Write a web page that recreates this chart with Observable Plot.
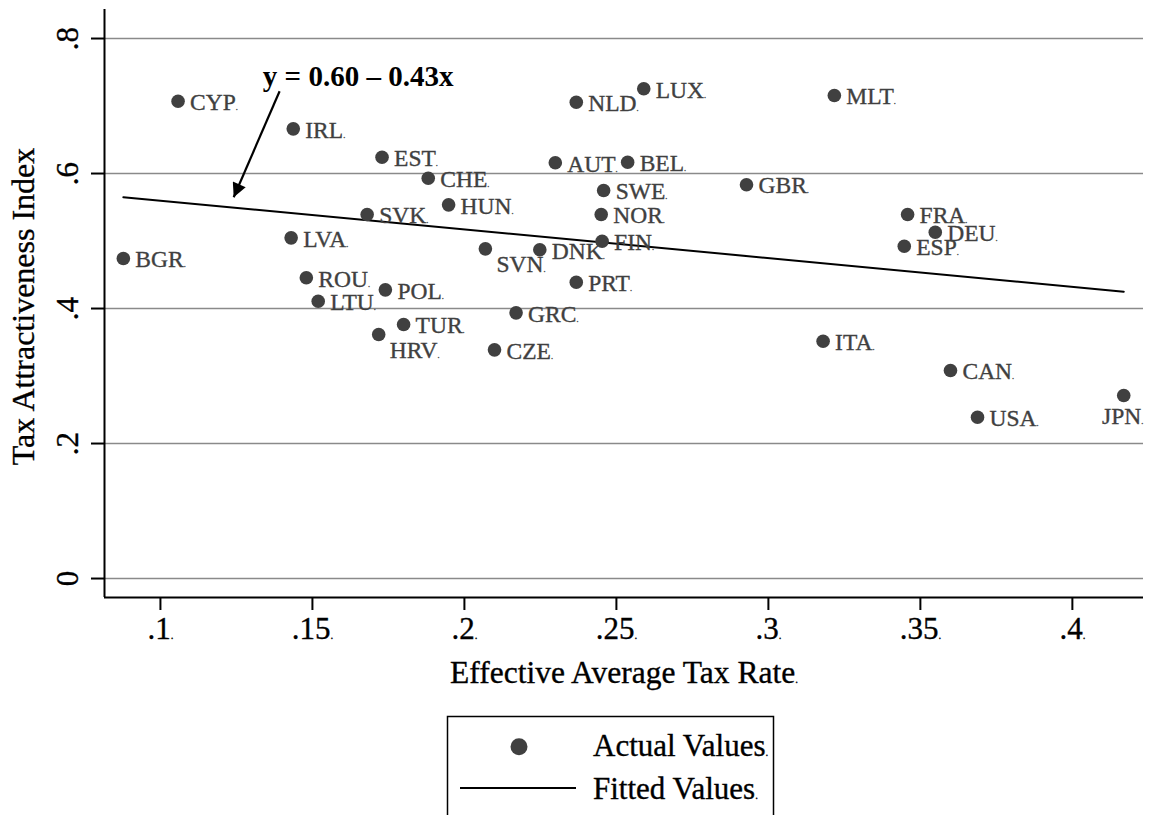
<!DOCTYPE html>
<html><head><meta charset="utf-8">
<script src="https://cdn.jsdelivr.net/npm/d3@7"></script>
<script src="https://cdn.jsdelivr.net/npm/@observablehq/plot@0.6"></script>
<style>
body{margin:0;background:#fff;overflow:hidden;}
#wrap{position:relative;width:1153px;height:815px;overflow:hidden;}
#wrap svg{display:block;}
#wrap text{font-family:"Liberation Serif","Times New Roman",serif;}
</style></head><body><div id="wrap"></div>
<script>
// ---- data ----
const countries = ["CYP","IRL","EST","CHE","HUN","SVK","LVA","SVN","DNK","ROU","POL","LTU","TUR","HRV","GRC","CZE","LUX","NLD","AUT","BEL","SWE","NOR","FIN","PRT","GBR","MLT","FRA","DEU","ESP","ITA","CAN","USA","JPN","BGR"];
const eatr = [0.1058,0.1437,0.1729,0.1881,0.1948,0.1680,0.1430,0.2069,0.2248,0.1480,0.1740,0.1519,0.1800,0.1718,0.2170,0.2099,0.2590,0.2368,0.2299,0.2537,0.2458,0.2450,0.2453,0.2368,0.2928,0.3217,0.3458,0.3549,0.3447,0.3180,0.3599,0.3688,0.4169,0.0878];
const tai  = [0.7071,0.6662,0.6241,0.5930,0.5536,0.5393,0.5047,0.4884,0.4870,0.4455,0.4277,0.4108,0.3763,0.3615,0.3936,0.3388,0.7255,0.7056,0.6159,0.6167,0.5748,0.5393,0.4997,0.4390,0.5834,0.7156,0.5393,0.5130,0.4923,0.3516,0.3081,0.2390,0.2711,0.4741];
const fitX = [0.0878, 0.4169];
const fitY = [0.565, 0.425];
const xTicks = [0.1, 0.15, 0.2, 0.25, 0.3, 0.35, 0.4];
const xTickLabels = [".1.", ".15.", ".2.", ".25.", ".3.", ".35.", ".4."];
const yTicks = [0, 0.2, 0.4, 0.6, 0.8];
const yTickLabels = ["0", ".2", ".4", ".6", ".8"];
const xTitle = "Effective Average Tax Rate.";
const yTitle = "Tax Attractiveness Index";
const labelBelowRight = ["SVN", "HRV"];
const labelBelow = ["JPN"];
const annotationText = "y = 0.60 – 0.43x";
const annotationPos = [0.1337, 0.7441];
const arrowFrom = [0.1392, 0.7219];
const arrowTo = [0.1241, 0.5649];
const legendLabels = ["Actual Values.", "Fitted Values."];

// ---- build ----
const serif = '"Liberation Serif","Times New Roman",serif';
const pts = countries.map((c, i) => ({country: c, label: c + ".", x: eatr[i], y: tai[i]}));
const fit = fitX.map((x, i) => ({x, y: fitY[i]}));
const xDomain = [0.0816, 0.4234];
const yDomain = [-0.0281, 0.843];
const xLab = new Map(xTicks.map((t, i) => [t, xTickLabels[i]]));
const yLab = new Map(yTicks.map((t, i) => [t, yTickLabels[i]]));
const dotColor = "#404040";
const lblSize = 23.5;

const plot = Plot.plot({
  width: 1153, height: 700,
  marginLeft: 104, marginRight: 10, marginTop: 9, marginBottom: 103,
  x: {domain: xDomain},
  y: {domain: yDomain},
  style: {background: "#fff", color: "black"},
  marks: [
    Plot.ruleY(yTicks, {stroke: "#8a8a8a", strokeWidth: 1.6}),
    Plot.ruleX([xDomain[0]], {stroke: "black", strokeWidth: 2}),
    Plot.ruleY([yDomain[0]], {stroke: "black", strokeWidth: 2}),
    Plot.axisX({ticks: xTicks, tickSize: 13, tickPadding: 6, strokeWidth: 2, fontSize: 31, tickFormat: d => xLab.get(d), label: null}),
    Plot.axisY({ticks: yTicks, tickSize: 13, strokeWidth: 2, tickFormat: () => "", label: null}),
    Plot.text(yTicks, {y: d => d, text: d => yLab.get(d), frameAnchor: "left", textAnchor: "middle", lineAnchor: "middle", dx: -36, rotate: -90, fontSize: 31, fill: "black"}),
    Plot.text([yTitle], {frameAnchor: "left", textAnchor: "middle", lineAnchor: "middle", dx: -81, dy: 3, rotate: -90, fontSize: 32, fill: "black"}),
    Plot.text([xTitle], {frameAnchor: "bottom", textAnchor: "middle", lineAnchor: "middle", dy: 75.3, fontSize: 31.5, fill: "black"}),
    Plot.line(fit, {x: "x", y: "y", stroke: "black", strokeWidth: 2}),
    Plot.dot(pts, {x: "x", y: "y", r: 6.8, fill: dotColor}),
    Plot.text(pts.filter(d => !labelBelowRight.includes(d.country) && !labelBelow.includes(d.country)),
      {x: "x", y: "y", text: "label", textAnchor: "start", lineAnchor: "middle", dx: 12, dy: 1.2, fontSize: lblSize, fill: dotColor}),
    Plot.text(pts.filter(d => labelBelowRight.includes(d.country)),
      {x: "x", y: "y", text: "label", textAnchor: "start", lineAnchor: "middle", dx: 11, dy: 16, fontSize: lblSize, fill: dotColor}),
    Plot.text(pts.filter(d => labelBelow.includes(d.country)),
      {x: "x", y: "y", text: "label", textAnchor: "middle", lineAnchor: "middle", dx: -1, dy: 21, fontSize: lblSize, fill: dotColor}),
    Plot.text([{x: annotationPos[0], y: annotationPos[1], t: annotationText}],
      {x: "x", y: "y", text: "t", textAnchor: "start", lineAnchor: "middle", fontSize: 29, fontWeight: "bold", fill: "black"}),
    Plot.link([{x1: arrowFrom[0], y1: arrowFrom[1], x2: arrowTo[0], y2: arrowTo[1]}],
      {x1: "x1", y1: "y1", x2: "x2", y2: "y2", stroke: "black", strokeWidth: 2.2})
  ]
});

const wrap = document.getElementById("wrap");
wrap.appendChild(plot);

// filled arrow head
const svg = d3.select(plot);
svg.append("defs").append("marker")
  .attr("id", "ahead").attr("viewBox", "0 0 10 10").attr("refX", 10).attr("refY", 5)
  .attr("markerWidth", 17).attr("markerHeight", 14).attr("markerUnits", "userSpaceOnUse")
  .attr("orient", "auto")
  .append("path").attr("d", "M0,0L10,5L0,10Z").attr("fill", "black");
svg.selectAll('g[aria-label="link"] path').attr("marker-end", "url(#ahead)");

// legend below the plot
const lg = d3.select(wrap).append("svg").attr("width", 1153).attr("height", 115);
lg.append("rect").attr("x", 447.5).attr("y", 16.5).attr("width", 326).attr("height", 200)
  .attr("fill", "none").attr("stroke", "black").attr("stroke-width", 1.5);
lg.append("circle").attr("cx", 519).attr("cy", 46.7).attr("r", 8.5).attr("fill", dotColor);
lg.append("line").attr("x1", 460).attr("x2", 576).attr("y1", 88).attr("y2", 88)
  .attr("stroke", "black").attr("stroke-width", 2);
lg.append("text").attr("x", 593).attr("y", 56).attr("font-size", 31).attr("fill", "black").text(legendLabels[0]);
lg.append("text").attr("x", 593).attr("y", 99).attr("font-size", 31).attr("fill", "black").text(legendLabels[1]);

// serif everywhere, slightly heavier strokes, tiny trailing dots (as in the reference rendering)
d3.select(wrap).selectAll("text").style("font-family", serif).each(function () {
  const sel = d3.select(this);
  const f = sel.attr("fill") || this.parentNode.getAttribute("fill") || "black";
  if (sel.attr("font-weight") !== "bold" && !(this.parentNode.getAttribute("font-weight") === "bold")) {
    sel.style("stroke", f === "currentColor" ? "black" : f).style("stroke-width", "0.35px");
  }
  const t = this.textContent;
  if (t.length > 1 && t.endsWith(".") && this.childElementCount === 0) {
    this.textContent = t.slice(0, -1);
    sel.append("tspan").attr("font-size", "0.35em").text(".");
  }
});
</script>
</body></html>
